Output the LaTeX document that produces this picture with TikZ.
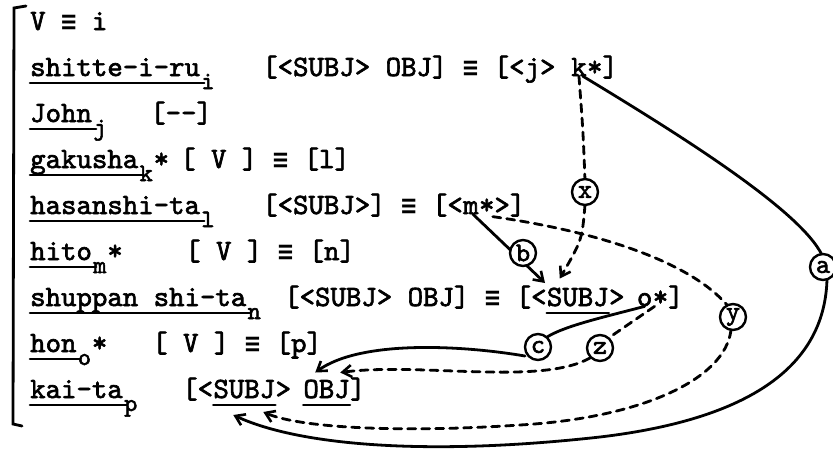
\documentclass[tikz,border=0pt]{standalone}
\usepackage{fontspec}
\newfontfamily\tw{lmmono10-regular.otf}[FakeBold=2.2]
\newfontfamily\symf{DejaVu Sans Mono}
\newcommand\eqv{{\symf\bfseries\fontsize{25.6}{30}\selectfont ≡}}
\usetikzlibrary{arrows.meta}

\begin{document}
\begin{tikzpicture}[x=1pt,y=-1pt,line cap=round,
  >={Straight Barb[length=9pt,width=12pt,line width=2.6pt]},
  font=\tw\fontsize{29.4}{34}\selectfont,
  txt/.style={anchor=base west,inner sep=0pt},
  sub/.style={anchor=base west,inner sep=0pt,yshift=-13pt,xshift=1pt,font=\tw\fontsize{25}{28}\selectfont},
  uline/.style={line width=2.6pt},
  link/.style={line width=2.8pt},
  dlink/.style={line width=2.8pt,dash pattern=on 8pt off 6pt},
  tag/.style={circle,draw,line width=2.4pt,fill=white,inner sep=0pt,minimum size=26pt,font=\tw\fontsize{27}{28}\selectfont}]
\useasboundingbox (0,0) rectangle (833,450);
% bracket
\draw[link] (26,6) -- (14,8) -- (13,424) -- (22,426);

% lexical entries
\node[txt] (vi) at (30,30) {V \eqv{} i};
\node[txt] (w2) at (30,76) {shitte-i-ru};
\node[sub] (s2) at (w2.base east) {i};
\node[txt] (w3) at (30,122) {John};
\node[sub] (s3) at (w3.base east) {j};
\node[txt] (w4) at (30,168) {gakusha};
\node[sub] (s4) at (w4.base east) {k};
\node[txt] at ([xshift=15pt]w4.base east) {*};
\node[txt] (w5) at (30,214) {hasanshi-ta};
\node[sub] (s5) at (w5.base east) {l};
\node[txt] (w6) at (30,260) {hito};
\node[sub] (s6) at (w6.base east) {m};
\node[txt] at ([xshift=15pt]w6.base east) {*};
\node[txt] (w7) at (30,306) {shuppan shi-ta};
\node[sub] (s7) at (w7.base east) {n};
\node[txt] (w8) at (30,352) {hon};
\node[sub] (s8) at (w8.base east) {o};
\node[txt] at ([xshift=15pt]w8.base east) {*};
\node[txt] (w9) at (30,398) {kai-ta};
\node[sub] (s9) at (w9.base east) {p};
\draw[uline] ([yshift=-7pt]w2.base west) -- ([yshift=-7pt,xshift=4pt]w2.base east);
\draw[uline] ([yshift=-7pt]w3.base west) -- ([yshift=-7pt,xshift=4pt]w3.base east);
\draw[uline] ([yshift=-7pt]w4.base west) -- ([yshift=-7pt,xshift=4pt]w4.base east);
\draw[uline] ([yshift=-7pt]w5.base west) -- ([yshift=-7pt,xshift=4pt]w5.base east);
\draw[uline] ([yshift=-7pt]w6.base west) -- ([yshift=-7pt,xshift=4pt]w6.base east);
\draw[uline] ([yshift=-7pt]w7.base west) -- ([yshift=-7pt,xshift=4pt]w7.base east);
\draw[uline] ([yshift=-7pt]w8.base west) -- ([yshift=-7pt,xshift=4pt]w8.base east);
\draw[uline] ([yshift=-7pt]w9.base west) -- ([yshift=-7pt,xshift=4pt]w9.base east);

% frames
\node[txt] (r2) at (262,76) {[<SUBJ> OBJ] \eqv{} [<j>};
\node[txt] (kk) at ([xshift=15.4pt]r2.base east) {k};
\node[txt] at (kk.base east) {*]};
\node[txt] at (150,122) {[-{}-]};
\node[txt] at (180,168) {[ V ] \eqv{} [l]};
\node[txt] (r5) at (262,214) {[<SUBJ>] \eqv{} [<};
\node[txt] (mm) at (r5.base east) {m};
\node[txt] (mst) at (mm.base east) {*>]};
\node[txt] at (185,260) {[ V ] \eqv{} [n]};
\node[txt] (r7) at (284,306) {[<SUBJ> OBJ] \eqv{} [<};
\node[txt] (su7) at (r7.base east) {SUBJ};
\node[txt] (gt7) at (su7.base east) {>};
\node[txt] (oo) at ([xshift=12pt]gt7.base east) {o};
\node[txt] at (oo.base east) {*]};
\node[txt] at (152,352) {[ V ] \eqv{} [p]};
\node[txt] (r9) at (182,398) {[<};
\node[txt] (su9) at (r9.base east) {SUBJ};
\node[txt] (gt9) at (su9.base east) {>};
\node[txt] (ob9) at ([xshift=12pt]gt9.base east) {OBJ};
\node[txt] at (ob9.base east) {]};
\draw[uline] ([yshift=-7pt]su7.base west) -- ([yshift=-7pt]su7.base east);
\draw[uline] ([yshift=-7pt]su9.base west) -- ([yshift=-7pt]su9.base east);
\draw[uline] ([yshift=-7pt]ob9.base west) -- ([yshift=-7pt]ob9.base east);

% links
\draw[link] ([xshift=-4pt]kk.south east) .. controls (680,135) and (800,210) .. (822,255);
\draw[link,->] (827,279) .. controls (825,360) and (760,418) .. (600,437)
  .. controls (430,456) and (300,446) .. ([xshift=20pt,yshift=-17pt]su9.base west);
\draw[dlink] (kk.south) .. controls (583,130) .. (585,180);
\draw[dlink,->] (585,205) .. controls (582,240) .. ([xshift=13pt,yshift=9pt]su7.north west);
\draw[link,->] ([xshift=2pt]mm.south) -- (545,283);
\draw[dlink] ([xshift=14pt]mst.south west) .. controls (600,232) and (690,262) .. (727,305);
\draw[dlink,->] (731,330) .. controls (725,380) and (640,418) .. (520,425)
  .. controls (400,433) and (300,428) .. ([xshift=50pt,yshift=-14pt]su9.base west);
\draw[link] (oo.south) .. controls (600,318) and (565,326) .. (547,337);
\draw[link,->] (525,356) .. controls (460,345) and (360,340) .. ([xshift=12pt,yshift=7pt]ob9.north west);
\draw[dlink] ([xshift=2pt]oo.south east) -- (610,337);
\draw[dlink,->] (590,358) .. controls (540,386) and (420,362) .. ([xshift=37pt,yshift=7pt]ob9.north west);

% tags
\node[tag] (la) at (823,267) {a};
\node[tag] (lb) at (523,253) {b};
\node[tag] (lc) at (538,347) {c};
\node[tag] (lx) at (585,192) {x};
\node[tag] (ly) at (733,317) {y};
\node[tag] (lz) at (600,348) {z};
\end{tikzpicture}
\end{document}
